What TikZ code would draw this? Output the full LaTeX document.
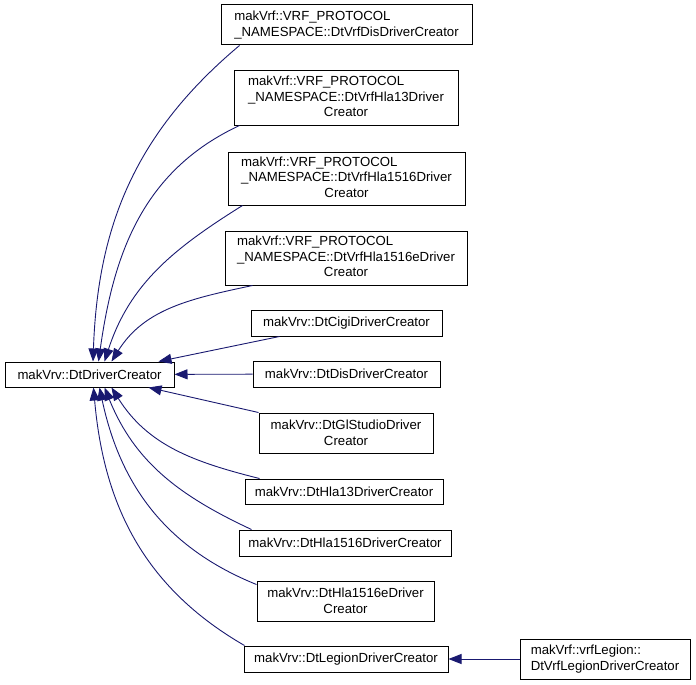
\documentclass[tikz,border=0pt]{standalone}
\usepackage{fontspec}
\setmainfont{Liberation Sans}
\usetikzlibrary{arrows.meta}
\definecolor{edgeblue}{RGB}{25,25,112}
\tikzset{
  >={Triangle[length=13pt,width=10pt]},
  x=1pt, y=1pt,
}
\tikzstyle{cls}=[draw=black,line width=1pt,fill=white,inner sep=0pt,font=\fontsize{13.2}{15.5}\selectfont]
\tikzstyle{inh}=[->,draw=edgeblue,line width=0.9pt]
\newcommand{\threeline}[2]{\begin{tabular}{@{}l@{}}#1\\#2\\\multicolumn{1}{@{}c@{}}{Creator}\end{tabular}}

\begin{document}
\begin{tikzpicture}
    \useasboundingbox (0,0) rectangle (696,-685);
    % base class
    \node[cls,minimum width=169pt,minimum height=25pt] (base) at (89.5,-374.5) {makVrv::DtDriverCreator};
    % derived classes
    \node[cls,minimum width=251pt,minimum height=40pt,align=left] (vrfDis) at (346.5,-25)
      {makVrf::VRF\_PROTOCOL\\\_NAMESPACE::DtVrfDisDriverCreator};
    \node[cls,minimum width=224pt,minimum height=54pt] (vrfHla13) at (346,-98)
      {\threeline{makVrf::VRF\_PROTOCOL}{\_NAMESPACE::DtVrfHla13Driver}};
    \node[cls,minimum width=237pt,minimum height=53pt] (vrfHla1516) at (346.5,-178.5)
      {\threeline{makVrf::VRF\_PROTOCOL}{\_NAMESPACE::DtVrfHla1516Driver}};
    \node[cls,minimum width=242pt,minimum height=54pt] (vrfHla1516e) at (346,-258)
      {\threeline{makVrf::VRF\_PROTOCOL}{\_NAMESPACE::DtVrfHla1516eDriver}};
    \node[cls,minimum width=191pt,minimum height=26pt] (cigi) at (346.5,-323) {makVrv::DtCigiDriverCreator};
    \node[cls,minimum width=187pt,minimum height=26pt] (dis) at (346.5,-374) {makVrv::DtDisDriverCreator};
    \node[cls,minimum width=174pt,minimum height=40pt,align=center] (glStudio) at (346,-433)
      {makVrv::DtGlStudioDriver\\Creator};
    \node[cls,minimum width=198pt,minimum height=25pt] (hla13) at (344,-491.5) {makVrv::DtHla13DriverCreator};
    \node[cls,minimum width=212pt,minimum height=26pt] (hla1516) at (345,-543) {makVrv::DtHla1516DriverCreator};
    \node[cls,minimum width=177pt,minimum height=40pt,align=center] (hla1516e) at (345.5,-601)
      {makVrv::DtHla1516eDriver\\Creator};
    \node[cls,minimum width=204pt,minimum height=26pt] (legion) at (346,-659) {makVrv::DtLegionDriverCreator};
    \node[cls,minimum width=170pt,minimum height=40pt,align=left] (vrfLegion) at (605,-659)
      {makVrf::vrfLegion::\\DtVrfLegionDriverCreator};
    % inheritance edges, upper side
    \draw[inh] ([xshift=19pt]vrfDis.south west) to[out=-140,in=88] ([xshift=3.5pt]base.north);
    \draw[inh] ([xshift=6pt]vrfHla13.south west) to[out=-155,in=82] ([xshift=9pt]base.north);
    \draw[inh] ([xshift=15pt]vrfHla1516.south west) to[out=-148,in=72] ([xshift=15pt]base.north);
    \draw[inh] ([xshift=28pt]vrfHla1516e.south west) to[out=-168,in=58] ([xshift=22pt]base.north);
    \draw[inh] ([xshift=29pt]cigi.south west) -- ([xshift=69pt]base.north);
    \draw[inh] (dis) -- (base);
    % lower side
    \draw[inh] (glStudio.north west) -- ([xshift=59pt]base.south);
    \draw[inh] ([xshift=15pt]hla13.north west) to[out=166,in=-58] ([xshift=22pt]base.south);
    \draw[inh] ([xshift=13pt]hla1516.north west) to[out=155,in=-68] ([xshift=15pt]base.south);
    \draw[inh] ([yshift=-4pt]hla1516e.north west) to[out=158,in=-78] ([xshift=10pt]base.south);
    \draw[inh] ([xshift=1pt]legion.north west) to[out=150,in=-85] ([xshift=4pt]base.south);
    \draw[inh] (vrfLegion) -- (legion);
\end{tikzpicture}
\end{document}
